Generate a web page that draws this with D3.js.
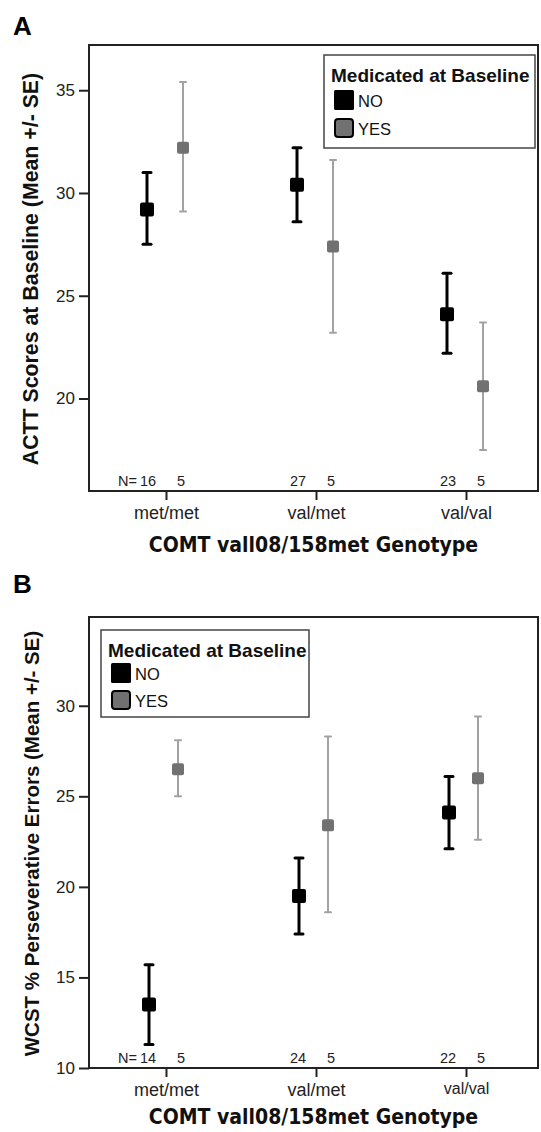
<!DOCTYPE html>
<html><head><meta charset="utf-8">
<script src="https://cdn.jsdelivr.net/npm/d3@7"></script>
<style>
html,body{margin:0;padding:0;background:#fff;}
svg{display:block;}
</style></head>
<body>
<svg id="chart" width="541" height="1132"></svg>
<script>
// ---------- DATA ----------
const genotypes = ["met/met", "val/met", "val/val"];
const groups = ["NO", "YES"];

// Panel A: ACTT scores at baseline (mean, mean-SE, mean+SE)
const acttNoMean  = [29.2, 30.4, 24.1];
const acttNoLow   = [27.5, 28.6, 22.2];
const acttNoHigh  = [31.0, 32.2, 26.1];
const acttYesMean = [32.2, 27.4, 20.6];
const acttYesLow  = [29.1, 23.2, 17.5];
const acttYesHigh = [35.4, 31.6, 23.7];
const acttNNo  = [16, 27, 23];
const acttNYes = [5, 5, 5];
const acttTicks = [20, 25, 30, 35];
const acttDomain = [15.5, 37.2];

// Panel B: WCST % perseverative errors
const wcstNoMean  = [13.5, 19.5, 24.1];
const wcstNoLow   = [11.3, 17.4, 22.1];
const wcstNoHigh  = [15.7, 21.6, 26.1];
const wcstYesMean = [26.5, 23.4, 26.0];
const wcstYesLow  = [25.0, 18.6, 22.6];
const wcstYesHigh = [28.1, 28.3, 29.4];
const wcstNNo  = [14, 24, 22];
const wcstNYes = [5, 5, 5];
const wcstTicks = [10, 15, 20, 25, 30];
const wcstDomain = [10, 34.9];

const legendTitle = "Medicated at Baseline";
const xTitle = "COMT vall08/158met Genotype";

// ---------- DRAW ----------
const svg = d3.select("#chart");
const SANS = "'Liberation Sans', Arial, Helvetica, sans-serif";
const VERD = "'DejaVu Sans Condensed', 'DejaVu Sans', Verdana, sans-serif";

function panel(o) {
  const g = svg.append("g");
  const x = d3.scalePoint().domain(genotypes).range([o.left + 77, o.right - 72]);
  const y = d3.scaleLinear().domain(o.domain).range([o.bottom, o.top]);

  // panel letter
  g.append("text").attr("x", 13).attr("y", o.letterY)
    .attr("font-family", SANS).attr("font-weight", "bold").attr("font-size", 26)
    .text(o.letter);

  // y axis
  const ya = g.append("g").attr("transform", `translate(${o.left},0)`)
    .call(d3.axisLeft(y).tickValues(o.ticks).tickSize(10).tickPadding(4).tickFormat(d3.format("d")));
  ya.select(".domain").remove();
  ya.selectAll(".tick line").attr("stroke", "#222").attr("stroke-width", 2);
  ya.selectAll(".tick text").attr("font-family", SANS).attr("font-size", 17).attr("fill", "#222");

  // x axis
  const xa = g.append("g").attr("transform", `translate(0,${o.bottom})`)
    .call(d3.axisBottom(x).tickSize(9).tickPadding(6));
  xa.select(".domain").remove();
  xa.selectAll(".tick line").attr("stroke", "#222").attr("stroke-width", 2);
  xa.selectAll(".tick text").attr("font-family", SANS)
    .attr("font-size", (d, i) => o.xLabelSizes[i]).attr("fill", "#222");

  // box
  g.append("rect").attr("x", o.left).attr("y", o.top)
    .attr("width", o.right - o.left).attr("height", o.bottom - o.top)
    .attr("fill", "none").attr("stroke", "#222").attr("stroke-width", 2);

  // y title
  g.append("text")
    .attr("transform", `translate(31,${(o.top + o.bottom) / 2 + 1}) rotate(-90)`)
    .attr("text-anchor", "middle").attr("dominant-baseline", "central")
    .attr("font-family", SANS).attr("font-weight", "bold").attr("font-size", o.yTitleSize)
    .attr("fill", "#111").text(o.yTitle);

  // x title
  g.append("text").attr("x", (o.left + o.right) / 2).attr("y", o.bottom + o.xTitleGap)
    .attr("text-anchor", "middle")
    .attr("font-family", VERD).attr("font-weight", "bold").attr("font-size", 21)
    .attr("fill", "#111").text(xTitle);

  const series = [
    {key: "NO", mean: o.noMean, lo: o.noLow, hi: o.noHigh, n: o.nNo, off: o.offNo, nOff: -18,
     bar: "#000", bw: 3, cap: 8, sq: 14, fill: "#000"},
    {key: "YES", mean: o.yesMean, lo: o.yesLow, hi: o.yesHigh, n: o.nYes, off: o.offYes, nOff: 15,
     bar: "#a2a2a2", bw: 2, cap: 6, sq: 12, fill: "#717171"}
  ];

  series.forEach(s => {
    const data = genotypes.map((c, i) => ({c, m: s.mean[i], lo: s.lo[i], hi: s.hi[i], n: s.n[i]}));
    const sg = g.append("g");
    sg.selectAll("line.bar").data(data).join("line")
      .attr("x1", d => x(d.c) + s.off).attr("x2", d => x(d.c) + s.off)
      .attr("y1", d => y(d.lo)).attr("y2", d => y(d.hi))
      .attr("stroke", s.bar).attr("stroke-width", s.bw);
    ["lo", "hi"].forEach(k => {
      sg.selectAll("line.cap" + k).data(data).join("line")
        .attr("x1", d => x(d.c) + s.off - s.cap / 2).attr("x2", d => x(d.c) + s.off + s.cap / 2)
        .attr("y1", d => y(d[k])).attr("y2", d => y(d[k]))
        .attr("stroke", s.bar).attr("stroke-width", s.bw).attr("stroke-linecap", "round");
    });
    sg.selectAll("rect").data(data).join("rect")
      .attr("x", d => x(d.c) + s.off - s.sq / 2).attr("y", d => y(d.m) - s.sq / 2)
      .attr("width", s.sq).attr("height", s.sq).attr("rx", 2)
      .attr("fill", s.fill);
    // N labels
    sg.selectAll("text").data(data).join("text")
      .attr("x", d => x(d.c) + s.nOff)
      .attr("y", o.bottom - 5).attr("text-anchor", "middle")
      .attr("font-family", SANS).attr("font-size", 14.5).attr("fill", "#222")
      .text(d => d.n);
  });
  // "N=" prefix
  const firstX = x(genotypes[0]) - 18;
  g.append("text").attr("x", firstX - 11).attr("y", o.bottom - 5)
    .attr("text-anchor", "end").attr("font-family", SANS).attr("font-size", 14.5).attr("fill", "#222")
    .text("N=");

  // legend
  const L = o.legend;
  const lg = g.append("g").attr("transform", `translate(${L.x},${L.y})`);
  lg.append("rect").attr("width", L.w).attr("height", L.h)
    .attr("fill", "#fff").attr("stroke", "#444").attr("stroke-width", 1.5);
  lg.append("text").attr("x", 7).attr("y", 27)
    .attr("font-family", SANS).attr("font-weight", "bold").attr("font-size", 19).attr("fill", "#111")
    .text(legendTitle);
  const color = d3.scaleOrdinal().domain(groups).range(["#000", "#717171"]);
  groups.forEach((gname, i) => {
    const yy = L.rowY + i * L.rowGap;
    lg.append("rect").attr("x", 10 + (i ? 1 : 0)).attr("y", yy + (i ? 1 : 0))
      .attr("width", i ? 18 : 20).attr("height", i ? 18 : 20).attr("rx", i ? 3 : 1.5)
      .attr("fill", color(gname)).attr("stroke", i ? "#000" : "none").attr("stroke-width", 2);
    lg.append("text").attr("x", 34).attr("y", yy + 17)
      .attr("font-family", SANS).attr("font-size", 16.5).attr("fill", "#111").text(gname);
  });
}

panel({
  letter: "A", letterY: 35,
  left: 89, right: 538, top: 45, bottom: 491,
  domain: acttDomain, ticks: acttTicks, xLabelSizes: [18, 18, 18],
  yTitle: "ACTT Scores at Baseline (Mean +/- SE)", yTitleSize: 21.3, xTitleGap: 61,
  noMean: acttNoMean, noLow: acttNoLow, noHigh: acttNoHigh,
  yesMean: acttYesMean, yesLow: acttYesLow, yesHigh: acttYesHigh,
  nNo: acttNNo, nYes: acttNYes, offNo: -19, offYes: 17,
  legend: {x: 324, y: 55, w: 211, h: 93, rowY: 35, rowGap: 28}
});

panel({
  letter: "B", letterY: 593,
  left: 89, right: 538, top: 617, bottom: 1068,
  domain: wcstDomain, ticks: wcstTicks, xLabelSizes: [18, 18, 16],
  yTitle: "WCST % Perseverative Errors (Mean +/- SE)", yTitleSize: 20.5, xTitleGap: 56,
  noMean: wcstNoMean, noLow: wcstNoLow, noHigh: wcstNoHigh,
  yesMean: wcstYesMean, yesLow: wcstYesLow, yesHigh: wcstYesHigh,
  nNo: wcstNNo, nYes: wcstNYes, offNo: -17, offYes: 12,
  legend: {x: 101, y: 630, w: 208, h: 87, rowY: 33, rowGap: 27}
});
</script>
</body></html>
